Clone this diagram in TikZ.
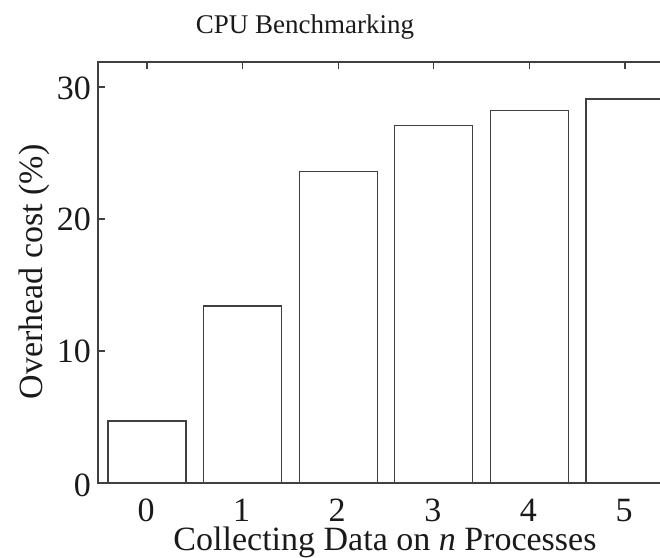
\documentclass[tikz,border=0pt]{standalone}
\usepackage{fontspec}
\setmainfont{Liberation Serif}
\definecolor{axisgray}{HTML}{404040}
\definecolor{textblack}{HTML}{1A1A1A}
\tikzset{
  plotline/.style={draw=axisgray, line width=1.3pt},
  barbox/.style={draw=axisgray, line width=1.3pt, fill=white},
  ticklabel/.style={text=textblack, font=\fontsize{34}{40}\selectfont, inner sep=0pt},
  xticklabel/.style={ticklabel, text depth=0pt, text height=23pt},
  axislabel/.style={text=textblack, font=\fontsize{34}{40}\selectfont, inner sep=0pt},
  titlelabel/.style={text=textblack, font=\fontsize{27}{32}\selectfont, inner sep=0pt}
}
\begin{document}
\begin{tikzpicture}[x=1pt,y=-1pt]
\useasboundingbox (0,0) rectangle (660,557);
\begin{scope}
\clip (0,0) rectangle (660,557);
% bars
\foreach \i/\v in {0/4.7,1/13.4,2/23.6,3/27.1,4/28.2,5/29.1}{
  \pgfmathsetmacro{\xl}{108+95.6*\i}
  \pgfmathsetmacro{\yt}{483-13.2*\v}
  \draw[barbox] (\xl,483) rectangle (\xl+78,\yt);
}
% frame
\draw[plotline] (700,62) -- (98,62) -- (98,483) -- (700,483);
% top ticks
\foreach \i in {0,...,5}{
  \pgfmathsetmacro{\xc}{147+95.6*\i}
  \draw[plotline] (\xc,62) -- (\xc,69);
}
% left ticks
\foreach \v in {10,20,30}{
  \pgfmathsetmacro{\yv}{483-13.2*\v}
  \draw[plotline] (98,\yv) -- (105,\yv);
}
\end{scope}
% y tick labels
\node[ticklabel, anchor=east] (y0) at (91,485) {0};
\node[ticklabel, anchor=east] (y10) at (91,351) {10};
\node[ticklabel, anchor=east] (y20) at (91,219) {20};
\node[ticklabel, anchor=east] (y30) at (91,88) {30};
% x tick labels
\foreach \i in {0,...,5}{
  \pgfmathsetmacro{\xc}{146+95.6*\i}
  \node[xticklabel, anchor=base] (x\i) at (\xc,521) {\i};
}
% axis labels
\node[axislabel, anchor=base, text height=23.5pt] (xlabel) at (385,550) {Collecting Data on \textit{n} Processes};
\node[axislabel, rotate=90, anchor=base] (ylabel) at (42,272) {Overhead cost (\%)};
% title
\node[titlelabel, anchor=base] (title) at (305,33) {CPU Benchmarking};
\end{tikzpicture}
\end{document}
